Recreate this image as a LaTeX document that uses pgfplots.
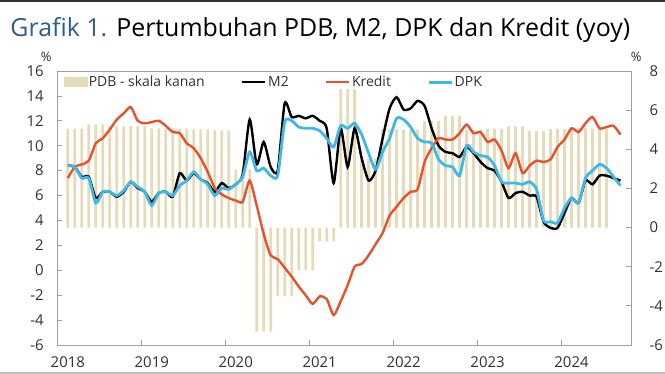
\documentclass[border=0pt]{standalone}
\usepackage{pgfplots}
\pgfplotsset{compat=1.18}
\usepackage{pgfplotstable}
\usepackage{fontspec}
\setmainfont{Open Sans}
\newfontfamily\titlefont{Open Sans}
\definecolor{barcol}{HTML}{E6DBB8}
\definecolor{kred}{HTML}{E4532B}
\definecolor{dpk}{HTML}{3DB8E8}
\definecolor{axgray}{HTML}{A0A0A0}
\definecolor{titleblue}{HTML}{2E5E8E}
\definecolor{txt}{HTML}{303030}

\pgfplotstableread{
i gdp
0 5.06
1 5.06
2 5.06
3 5.27
4 5.27
5 5.27
6 5.17
7 5.17
8 5.17
9 5.18
10 5.18
11 5.18
12 5.07
13 5.07
14 5.07
15 5.05
16 5.05
17 5.05
18 5.02
19 5.02
20 5.02
21 4.97
22 4.97
23 4.97
24 2.97
25 2.97
26 2.97
27 -5.32
28 -5.32
29 -5.32
30 -3.49
31 -3.49
32 -3.49
33 -2.17
34 -2.17
35 -2.17
36 -0.71
37 -0.71
38 -0.71
39 7.07
40 7.07
41 7.07
42 3.51
43 3.51
44 3.51
45 5.02
46 5.02
47 5.02
48 5.01
49 5.01
50 5.01
51 5.44
52 5.44
53 5.44
54 5.72
55 5.72
56 5.72
57 5.01
58 5.01
59 5.01
60 5.04
61 5.04
62 5.04
63 5.17
64 5.17
65 5.17
66 4.94
67 4.94
68 4.94
69 5.04
70 5.04
71 5.04
72 5.11
73 5.11
74 5.11
75 5.05
76 5.05
77 5.05
}\gdptable

\pgfplotstableread{
i m2 kr dpk
0 8.4 7.4 8.4
1 8.3 8.3 8.3
2 7.5 8.5 7.4
3 7.5 8.8 7.4
4 5.8 10.2 5.4
5 6.3 10.6 6.3
6 6.3 11.3 6.3
7 5.9 12.1 6.0
8 6.3 12.6 6.4
9 7.1 13.1 7.1
10 6.6 12.0 6.7
11 6.3 11.8 6.3
12 5.5 11.9 5.2
13 6.2 12.0 6.2
14 6.3 11.6 6.3
15 5.9 11.1 6.0
16 7.8 11.0 6.8
17 7.2 10.2 7.2
18 7.8 9.8 7.9
19 7.3 9.0 7.3
20 7.0 7.9 6.9
21 6.3 6.6 6.0
22 7.0 6.1 6.6
23 6.6 5.8 6.5
24 6.9 5.6 6.9
25 7.7 5.5 7.5
26 12.1 7.2 9.5
27 8.5 5.2 8.0
28 10.3 2.9 8.2
29 8.3 1.2 7.6
30 8.0 0.9 7.6
31 13.4 0.2 11.9
32 12.3 -0.5 12.0
33 12.4 -1.3 11.5
34 12.2 -2.0 11.4
35 12.4 -2.7 11.4
36 12.0 -2.1 11.2
37 11.4 -2.3 10.6
38 7.0 -3.6 9.9
39 11.4 -2.5 11.6
40 8.3 -1.2 11.4
41 11.4 0.3 11.8
42 9.0 0.5 10.9
43 7.2 1.2 9.4
44 8.0 2.1 8.1
45 10.6 3.0 9.5
46 13.0 4.4 10.6
47 13.9 5.1 12.2
48 12.9 5.8 12.1
49 13.0 6.3 11.5
50 13.6 6.5 10.6
51 13.2 8.7 10.3
52 11.4 9.8 10.2
53 10.0 10.6 8.9
54 9.5 10.5 8.4
55 9.4 10.5 8.3
56 9.1 11.0 7.6
57 9.9 11.7 10.0
58 9.4 11.0 9.5
59 8.7 11.1 9.2
60 8.2 10.3 9.1
61 8.0 10.5 8.4
62 7.1 9.6 7.1
63 5.8 8.2 7.0
64 6.2 9.4 7.0
65 6.3 7.8 6.9
66 6.0 8.4 7.1
67 5.9 8.8 6.5
68 3.9 8.7 4.0
69 3.4 8.9 3.9
70 3.4 9.9 3.8
71 4.6 10.5 5.0
72 5.8 11.4 5.8
73 5.4 11.1 5.4
74 7.2 11.8 7.4
75 6.9 12.3 8.0
76 7.6 11.4 8.5
77 7.6 11.5 8.2
78 7.4 11.6 7.5
79 7.2 10.9 6.8
}\linetable

\pgfplotsset{
  base/.style={
    scale only axis, width=573.7bp, height=274bp,
    xmin=-1.5, xmax=80.5,
    axis line style={axgray, line width=0.8bp},
    every tick/.style={axgray, line width=0.8bp},
    major tick length=5bp, minor tick length=5bp,
    tick align=inside,
    ticklabel style={font=\fontsize{15}{15}\selectfont, text=txt},
    /pgf/number format/assume math mode=true,
  },
}

\begin{document}
\begin{tikzpicture}
% bars on right scale
\begin{axis}[base,
  axis x line=none,
  axis y line*=right,
  ymin=-6, ymax=8, ytick={-6,-4,...,8},
  yticklabel style={anchor=west, xshift=15bp},
]
\addplot[ybar, bar width=0.4, fill=barcol, draw=none, bar shift=0] table[x=i, y=gdp] {\gdptable};
\end{axis}
% lines on left scale
\begin{axis}[base,
  ymin=-6, ymax=16, ytick={-6,-4,...,16},
  ytick pos=left, xtick pos=bottom,
  xtick={0,12,...,72}, xticklabels={2018,2019,2020,2021,2022,2023,2024},
  major x tick style={draw=none},
  minor xtick={10.5,22.5,...,70.5},
  yticklabel style={anchor=east, xshift=-10bp},
  xticklabel style={anchor=north, yshift=-8bp},
  legend columns=4,
  legend style={at={(0.006,0.995)}, anchor=north west, draw=none, fill=none,
    font=\fontsize{14}{14}\selectfont, text=txt,
    nodes={inner sep=1.5bp},
    /tikz/every even column/.append style={column sep=35bp}},
  legend image code/.code={\draw[#1] (0bp,0bp) -- (23bp,0bp);},
]
\addlegendimage{legend image code/.code={\fill[barcol] (0bp,-4.5bp) rectangle (23bp,4.5bp);}}
\addlegendentry{PDB - skala kanan}
\addplot[black, line width=2.4bp, smooth, tension=0.4] table[x=i, y=m2] {\linetable};
\addlegendentry{M2}
\addplot[kred, line width=2.4bp, smooth, tension=0.4] table[x=i, y=kr] {\linetable};
\addlegendentry{Kredit}
\addplot[dpk, line width=2.8bp, smooth, tension=0.4] table[x=i, y=dpk] {\linetable};
\addlegendentry{DPK}
\end{axis}
\node[font=\fontsize{13}{13}\selectfont, text=txt] at (-11bp,288bp) {\%};
\node[font=\fontsize{13}{13}\selectfont, text=txt] at (579bp,288bp) {\%};
\node[anchor=base west, font=\titlefont\fontsize{25}{25}\selectfont, inner sep=0pt] at (-47bp,308bp)
  {\textcolor{titleblue}{Grafik 1.}\hspace{9bp}Pertumbuhan PDB, M2, DPK dan Kredit (yoy)};
\fill[black!80] (-57.3bp,342.5bp) rectangle (607.7bp,345bp);
\fill[black!25] (-57.3bp,-29bp) rectangle (607.7bp,-27bp);
\pgfresetboundingbox
\path[use as bounding box] (-57.3bp,-29bp) rectangle (607.7bp,345bp);
\end{tikzpicture}
\end{document}
